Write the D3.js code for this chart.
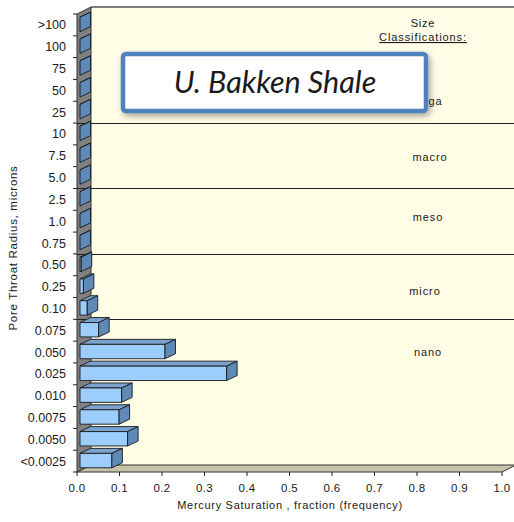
<!DOCTYPE html>
<html>
<head>
<meta charset="utf-8">
<script src="https://cdn.jsdelivr.net/npm/d3@7"></script>
<style>
  html, body { margin: 0; padding: 0; background: #ffffff; }
  svg { display: block; }
  text { font-family: "Liberation Sans", Arial, sans-serif; fill: #1a1a1a; }
</style>
</head>
<body>
<svg id="chart" width="514" height="522"></svg>
<script>
// Pore throat radius classes (microns), top to bottom
const categories = [">100", "100", "75", "50", "25", "10", "7.5", "5.0", "2.5", "1.0", "0.75",
  "0.50", "0.25", "0.10", "0.075", "0.050", "0.025", "0.010", "0.0075", "0.0050", "<0.0025"];
// Mercury saturation fraction (frequency) per class
const saturation = [0, 0, 0, 0, 0, 0, 0, 0, 0, 0, 0,
  0.003, 0.008, 0.017, 0.044, 0.200, 0.345, 0.098, 0.092, 0.112, 0.075];
const xTicks = [0, 0.1, 0.2, 0.3, 0.4, 0.5, 0.6, 0.7, 0.8, 0.9, 1.0];
// Size classification names and the first radius class of each group below "mega"
const sizeClasses = ["mega", "macro", "meso", "micro", "nano"];
const classStarts = ["10", "2.5", "0.50", "0.075"];

const svg = d3.select("#chart");

const x = d3.scaleLinear().domain([0, 1]).range([77, 502]);
const y = d3.scaleBand().domain(categories).range([14, 472]);
const bw = y.bandwidth();

// 3-D depth offsets
const wallDx = 14, wallDy = -7;
const barDx = 10.5, barDy = -5, barShift = 3;

const poly = pts => "M" + pts.map(p => p.join(",")).join("L") + "Z";

const x0 = x(0), x1 = x(1);
const yTop = y.range()[0], yBot = y.range()[1];

// back wall
svg.append("path")
  .attr("d", poly([[x0 + wallDx, yTop + wallDy], [x1 + wallDx + 4, yTop + wallDy],
                   [x1 + wallDx + 4, yBot + wallDy], [x0 + wallDx, yBot + wallDy]]))
  .attr("fill", "#fffde6");
svg.append("line")
  .attr("x1", x0 + wallDx).attr("x2", 514)
  .attr("y1", yTop + wallDy).attr("y2", yTop + wallDy)
  .attr("stroke", "#555").attr("stroke-width", 1.5);

// floor
svg.append("path")
  .attr("d", poly([[x0, yBot], [x0 + wallDx, yBot + wallDy], [x1 + wallDx, yBot + wallDy], [x1, yBot]]))
  .attr("fill", "#c5c3a9").attr("stroke", "#333").attr("stroke-width", 1);

// left wall
svg.append("path")
  .attr("d", poly([[x0, yTop], [x0 + wallDx, yTop + wallDy], [x0 + wallDx, yBot + wallDy], [x0, yBot]]))
  .attr("fill", "#808080").attr("stroke", "#333").attr("stroke-width", 1);

// classification separators
svg.selectAll("line.sep").data(classStarts).join("line")
  .attr("class", "sep")
  .attr("x1", x0).attr("x2", 514)
  .attr("y1", d => Math.round(y(d)) + 0.5).attr("y2", d => Math.round(y(d)) + 0.5)
  .attr("stroke", "#222").attr("stroke-width", 1);

// size classification labels
svg.append("text").attr("x", 423).attr("y", 27).attr("text-anchor", "middle")
  .attr("font-size", 11).attr("letter-spacing", 0.8).text("Size");
svg.append("text").attr("x", 423).attr("y", 41).attr("text-anchor", "middle")
  .attr("font-size", 11).attr("letter-spacing", 0.9).attr("text-decoration", "underline").text("Classifications:");
const classY = [101, 157, 217, 291, 352];
const classX = [427, 430, 428, 425, 428];
svg.selectAll("text.cls").data(sizeClasses).join("text")
  .attr("class", "cls")
  .attr("x", (d, i) => classX[i]).attr("y", (d, i) => classY[i] + 4)
  .attr("text-anchor", "middle").attr("font-size", 11).attr("letter-spacing", 0.9).text(d => d);

// bars
const rows = categories.map((c, i) => ({ c, v: saturation[i] }));
const g = svg.append("g").attr("stroke", "#1a1a1a").attr("stroke-width", 0.9).attr("stroke-linejoin", "round");
rows.forEach(r => {
  const h = bw * 0.66;
  const top = y(r.c) + (bw - h) / 2 - 0.5;
  const left = x(0) + barShift, right = x(r.v) + barShift;
  // top face
  g.append("path")
    .attr("d", poly([[left, top], [left + barDx, top + barDy], [right + barDx, top + barDy], [right, top]]))
    .attr("fill", "#7ba2cf");
  // front face
  if (right - left > 0.3) {
    g.append("rect").attr("x", left).attr("y", top).attr("width", right - left).attr("height", h)
      .attr("fill", "#9dcdfb");
  }
  // end face
  g.append("path")
    .attr("d", poly([[right, top], [right + barDx, top + barDy], [right + barDx, top + barDy + h], [right, top + h]]))
    .attr("fill", "#5f89b6");
});

// y axis
const yAxis = svg.append("g");
yAxis.selectAll("line").data(categories.concat(["__end"])).join("line")
  .attr("x1", x0 - 4).attr("x2", x0)
  .attr("y1", (d, i) => yTop + i * bw).attr("y2", (d, i) => yTop + i * bw)
  .attr("stroke", "#222");
yAxis.selectAll("text").data(categories).join("text")
  .attr("x", 66).attr("y", d => y(d) + bw / 2 + 4.5)
  .attr("text-anchor", "end").attr("font-size", 12.5).text(d => d);

// x axis
const xAxis = svg.append("g");
xAxis.selectAll("line").data(xTicks).join("line")
  .attr("x1", d => x(d)).attr("x2", d => x(d))
  .attr("y1", yBot).attr("y2", yBot + 4).attr("stroke", "#222");
xAxis.selectAll("text").data(xTicks).join("text")
  .attr("x", d => x(d)).attr("y", 492)
  .attr("text-anchor", "middle").attr("font-size", 11.5).attr("letter-spacing", 0.3)
  .text(d => d3.format(".1f")(d));

// axis titles
svg.append("text").attr("x", 290).attr("y", 509).attr("text-anchor", "middle")
  .attr("font-size", 11).attr("letter-spacing", 0.7).text("Mercury Saturation , fraction (frequency)");
svg.append("text").attr("transform", "translate(17,248) rotate(-90)")
  .attr("text-anchor", "middle").attr("font-size", 11.5).attr("letter-spacing", 0.7)
  .text("Pore Throat Radius, microns");

// title box
const defs = svg.append("defs");
const f = defs.append("filter").attr("id", "shadow").attr("x", "-20%").attr("y", "-40%")
  .attr("width", "140%").attr("height", "180%");
f.append("feDropShadow").attr("dx", 2).attr("dy", 3).attr("stdDeviation", 3)
  .attr("flood-color", "#000").attr("flood-opacity", 0.35);
svg.append("rect").attr("x", 123).attr("y", 54).attr("width", 303).attr("height", 57)
  .attr("rx", 3).attr("fill", "#ffffff").attr("stroke", "#4f81bd").attr("stroke-width", 4.5)
  .attr("filter", "url(#shadow)");
svg.append("text").attr("x", 275).attr("y", 93).attr("text-anchor", "middle")
  .style("font-family", "Lato, 'Open Sans', sans-serif").style("font-style", "italic")
  .attr("font-size", 30.5).attr("fill", "#000").text("U. Bakken Shale");
</script>
</body>
</html>
